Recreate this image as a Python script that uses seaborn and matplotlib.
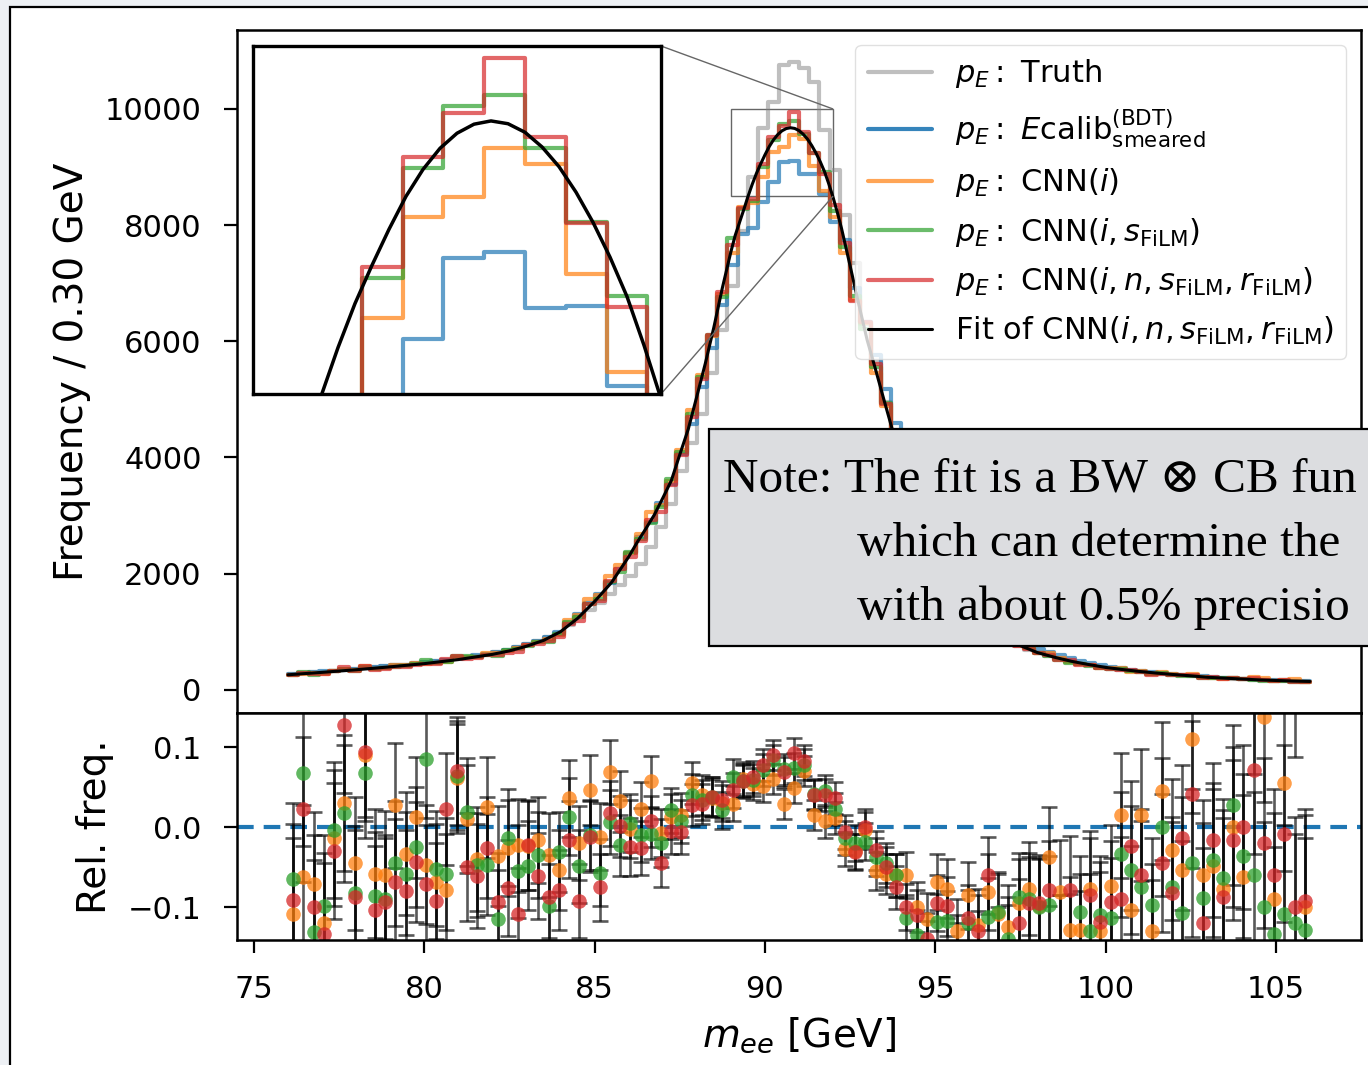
import numpy as np
import pandas as pd
import matplotlib
matplotlib.use("Agg")
import matplotlib.pyplot as plt
from matplotlib.lines import Line2D
from matplotlib.patches import Rectangle
from mpl_toolkits.axes_grid1.inset_locator import mark_inset
import seaborn as sns

# ---------------- data ----------------
bin_lo, bin_hi, n_bins = 76.0, 106.0, 100

truth = [276, 289, 302, 314, 328, 342, 357, 371, 387, 404,
         418, 435, 452, 471, 493, 515, 538, 563, 590, 619,
         653, 690, 733, 784, 842, 911, 975, 1120, 1250, 1380,
         1500, 1650, 1800, 1960, 2170, 2450, 2800, 3200, 3760, 4250,
         4750, 5450, 6200, 6950, 7900, 8836, 9667, 10126, 10757, 10814,
         10700, 10470, 9640, 8950, 8176, 7350, 6300, 5650, 4950, 4250,
         3620, 3080, 2620, 2240, 1920, 1650, 1420, 1240, 1090, 960,
         850, 760, 690, 625, 575, 530, 490, 452, 420, 392,
         366, 344, 324, 305, 289, 274, 259, 246, 233, 219,
         207, 197, 189, 180, 171, 164, 158, 152, 147, 142]

ecalib = [276, 290, 302, 315, 328, 343, 357, 372, 388, 404,
          419, 435, 453, 472, 494, 516, 539, 564, 591, 620,
          654, 692, 734, 785, 844, 912, 988, 1156, 1313, 1490,
          1653, 1838, 2081, 2352, 2630, 2896, 3208, 3547, 4059, 4573,
          5208, 5880, 6622, 7314, 7839, 7950, 8400, 8736, 9085, 9113,
          8872, 8881, 8536, 8058, 7737, 6914, 6333, 5771, 5179, 4599,
          4088, 3596, 3125, 2633, 2256, 1944, 1667, 1444, 1256, 1094,
          967, 861, 783, 706, 650, 599, 549, 502, 467, 430,
          398, 367, 346, 325, 307, 292, 275, 261, 248, 232,
          220, 209, 201, 192, 182, 174, 168, 161, 156, 151]

cnn_i = [246, 272, 281, 277, 323, 353, 341, 405, 365, 380,
         431, 421, 458, 450, 460, 476, 572, 570, 567, 636,
         630, 674, 717, 767, 830, 880, 935, 1198, 1287, 1559,
         1633, 1965, 2149, 2347, 2688, 3061, 3186, 3593, 4120, 4825,
         5416, 6092, 6821, 7526, 8309, 8380, 8829, 9264, 9350, 9559,
         9491, 9017, 8594, 8147, 7528, 6707, 6308, 5454, 4879, 4323,
         3843, 3236, 2766, 2454, 2082, 1691, 1525, 1267, 1154, 976,
         846, 779, 723, 636, 626, 550, 478, 438, 431, 374,
         369, 373, 310, 330, 267, 305, 267, 247, 275, 218,
         209, 193, 201, 180, 213, 198, 153, 170, 187, 136]

cnn_is = [258, 309, 262, 284, 327, 349, 328, 397, 355, 368,
          400, 410, 442, 512, 468, 486, 573, 575, 563, 591,
          579, 683, 694, 747, 814, 823, 957, 1171, 1249, 1475,
          1559, 1850, 2034, 2364, 2604, 2873, 3144, 3621, 4087, 4756,
          5385, 6103, 6761, 7775, 8286, 8420, 8999, 9473, 9741, 9789,
          9562, 9243, 8922, 8243, 7629, 6776, 6219, 5557, 4946, 4323,
          3622, 3110, 2656, 2322, 1992, 1633, 1467, 1227, 1115, 978,
          832, 786, 713, 635, 587, 509, 467, 449, 406, 383,
          353, 355, 327, 301, 277, 292, 254, 233, 237, 211,
          211, 196, 207, 185, 171, 157, 146, 144, 137, 132]

cnn_insr = [251, 296, 272, 273, 318, 387, 326, 407, 348, 366,
            391, 400, 433, 438, 449, 528, 577, 536, 555, 604,
            593, 639, 654, 767, 793, 833, 910, 1137, 1192, 1472,
            1529, 1869, 2083, 2293, 2562, 2916, 3064, 3529, 4035, 4699,
            5359, 6103, 6847, 7650, 8294, 8450, 9049, 9523, 9713, 9947,
            9609, 9238, 8876, 8348, 7691, 6700, 6333, 5604, 4920, 4254,
            3679, 3200, 2688, 2383, 2033, 1652, 1477, 1256, 1181, 930,
            822, 758, 709, 639, 599, 509, 506, 427, 427, 379,
            361, 334, 338, 306, 261, 279, 252, 258, 258, 204,
            216, 191, 198, 192, 195, 171, 158, 160, 140, 137]

fit_x = [76.0, 77.0, 78.0, 79.0, 80.0, 81.0, 82.0, 82.5, 83.0, 83.5,
         84.0, 84.5, 85.0, 85.5, 86.0, 86.25, 86.5, 86.75, 87.0, 87.25,
         87.5, 87.75, 88.0, 88.25, 88.5, 88.75, 89.0, 89.125, 89.25, 89.375,
         89.5, 89.625, 89.75, 89.875, 90.0, 90.125, 90.25, 90.375, 90.5, 90.625,
         90.75, 90.875, 91.0, 91.125, 91.25, 91.375, 91.5, 91.625, 91.75, 91.875,
         92.0, 92.125, 92.25, 92.5, 92.75, 93.0, 93.25, 93.5, 93.75, 94.0,
         94.25, 94.5, 94.75, 95.0, 95.5, 96.0, 96.5, 97.0, 97.5, 98.0,
         98.5, 99.0, 99.5, 100.0, 100.5, 101.0, 101.5, 102.0, 102.5, 103.0,
         103.5, 104.0, 104.5, 105.0, 105.5, 106.0]
fit_y = [258, 300, 345, 395, 450, 520, 610, 670, 750, 850,
         1000, 1230, 1520, 1850, 2290, 2540, 2770, 3010, 3300, 3600,
         4050, 4490, 5050, 5620, 6240, 6920, 7540, 7820, 8040, 8260,
         8490, 8700, 8890, 9055, 9210, 9352, 9468, 9559, 9624, 9663,
         9677, 9665, 9628, 9565, 9480, 9370, 9240, 9090, 8920, 8710,
         8480, 8220, 7940, 7300, 6650, 6024, 5510, 4980, 4460, 4000,
         3540, 3120, 2750, 2420, 1880, 1460, 1150, 920, 760, 640,
         560, 490, 435, 385, 348, 315, 287, 262, 240, 215,
         200, 185, 170, 160, 150, 143]

rel_cnn_i = [-0.108, -0.062, -0.071, -0.12, -0.014, 0.03, -0.045, 0.09, -0.058, -0.06,
             0.0275, -0.033, 0.012, -0.047, -0.068, -0.078, 0.061, 0.01, -0.04, 0.025,
             -0.036, -0.026, -0.0225, -0.023, -0.016, -0.035, -0.054, 0.036, -0.02, 0.046,
             -0.012, 0.069, 0.0325, -0.002, 0.022, 0.057, -0.007, 0.013, 0.015, 0.055,
             0.04, 0.036, 0.03, 0.029, 0.06, 0.054, 0.051, 0.06, 0.029, 0.049,
             0.07, 0.015, 0.007, 0.011, -0.027, -0.03, -0.004, -0.055, -0.058, -0.06,
             -0.06, -0.1, -0.115, -0.068, -0.077, -0.13, -0.085, -0.1225, -0.081, -0.108,
             -0.125, -0.095, -0.077, -0.099, -0.037, -0.081, -0.129, -0.128, -0.077, -0.13,
             -0.074, 0.015, -0.103, 0.015, -0.13, 0.045, -0.028, -0.053, 0.11, -0.06,
             -0.048, -0.077, 0.0, -0.062, 0.17, 0.137, -0.09, 0.055, 0.2, -0.1]

rel_cnn_is = [-0.065, 0.067, -0.131, -0.098, -0.004, 0.017, -0.082, 0.068, -0.086, -0.09,
              -0.045, -0.058, -0.025, 0.085, -0.052, -0.059, 0.064, 0.019, -0.0475, -0.047,
              -0.115, -0.013, -0.055, -0.048, -0.035, -0.098, -0.031, 0.013, -0.049, -0.01,
              -0.057, 0.0067, -0.0225, 0.005, -0.01, -0.008, -0.02, 0.021, 0.007, 0.04,
              0.034, 0.038, 0.021, 0.063, 0.057, 0.059, 0.071, 0.084, 0.072, 0.074,
              0.078, 0.041, 0.045, 0.023, -0.014, -0.02, -0.018, -0.037, -0.045, -0.06,
              -0.114, -0.135, -0.15, -0.118, -0.117, -0.16, -0.12, -0.15, -0.112, -0.106,
              -0.14, -0.087, -0.09, -0.1, -0.0975, -0.15, -0.15, -0.106, -0.13, -0.11,
              -0.114, -0.034, -0.054, -0.075, -0.0975, 0.0, -0.075, -0.107, -0.045, -0.089,
              -0.041, -0.063, 0.0275, -0.036, -0.06, -0.1, -0.133, -0.108, -0.12, -0.129]

rel_cnn_insr = [-0.091, 0.022, -0.1, -0.133, -0.03, 0.128, -0.087, 0.094, -0.104, -0.093,
                -0.068, -0.08, -0.044, -0.071, -0.092, 0.0225, 0.07, -0.05, -0.061, -0.026,
                -0.094, -0.076, -0.109, -0.0225, -0.061, -0.087, -0.079, -0.016, -0.092, -0.012,
                -0.075, 0.017, 0.001, -0.025, -0.026, 0.007, -0.045, -0.005, -0.006, 0.0275,
                0.029, 0.038, 0.034, 0.046, 0.058, 0.063, 0.077, 0.09, 0.069, 0.092,
                0.083, 0.04, 0.04, 0.036, -0.006, -0.031, 0.0, -0.029, -0.05, -0.075,
                -0.1, -0.11, -0.14, -0.095, -0.099, -0.15, -0.114, -0.13, -0.06, -0.15,
                -0.15, -0.12, -0.095, -0.095, -0.079, -0.15, -0.078, -0.15, -0.085, -0.118,
                -0.093, -0.09, -0.023, -0.06, -0.15, -0.045, -0.082, -0.013, 0.041, -0.12,
                -0.016, -0.087, -0.016, 0.0, 0.071, -0.02, -0.06, -0.008, -0.1, -0.092]

rel_err = [0.095, 0.09, 0.09, 0.088, 0.085, 0.085, 0.083, 0.082, 0.08, 0.08,
           0.078, 0.077, 0.075, 0.074, 0.072, 0.07, 0.068, 0.067, 0.065, 0.063,
           0.062, 0.06, 0.058, 0.056, 0.054, 0.052, 0.05, 0.048, 0.046, 0.044,
           0.042, 0.04, 0.038, 0.036, 0.034, 0.032, 0.03, 0.028, 0.027, 0.026,
           0.025, 0.024, 0.023, 0.022, 0.021, 0.02, 0.02, 0.019, 0.019, 0.019,
           0.019, 0.019, 0.02, 0.02, 0.021, 0.022, 0.023, 0.024, 0.025, 0.027,
           0.029, 0.031, 0.033, 0.035, 0.037, 0.04, 0.042, 0.045, 0.048, 0.05,
           0.053, 0.055, 0.058, 0.06, 0.062, 0.065, 0.067, 0.07, 0.072, 0.074,
           0.076, 0.078, 0.08, 0.082, 0.084, 0.086, 0.088, 0.09, 0.092, 0.094,
           0.096, 0.098, 0.1, 0.102, 0.104, 0.106, 0.108, 0.11, 0.112, 0.115]

legend_labels = [r"$p_E:$ Truth",
                 r"$p_E:$ $E\mathrm{calib}^{\mathrm{(BDT)}}_{\mathrm{smeared}}$",
                 r"$p_E:$ CNN$(i)$",
                 r"$p_E:$ CNN$(i, s_{\mathrm{FiLM}})$",
                 r"$p_E:$ CNN$(i, n, s_{\mathrm{FiLM}}, r_{\mathrm{FiLM}})$",
                 r"Fit of CNN$(i, n, s_{\mathrm{FiLM}}, r_{\mathrm{FiLM}})$"]
# the note box runs off the right edge of the slide; only its visible part is kept
note_lines = ["Note: The fit is a BW \u2297 CB fun",
              "which can determine the",
              "with about 0.5% precisio"]
x_ticks = [75, 80, 85, 90, 95, 100, 105]
y_ticks = [0, 2000, 4000, 6000, 8000, 10000]
r_ticks = [-0.1, 0.0, 0.1]

# ---------------- style ----------------
sns.set_theme(style="ticks")
plt.rcParams["font.family"] = ["DejaVu Sans"]
plt.rcParams["mathtext.fontset"] = "dejavusans"
plt.rcParams.update({"axes.edgecolor": "black", "xtick.color": "black",
                     "ytick.color": "black", "axes.labelcolor": "black",
                     "text.color": "black"})

C0, C1, C2, C3 = "#1f77b4", "#ff7f0e", "#2ca02c", "#d62728"

W, H = 1368, 1065
fig = plt.figure(figsize=(W / 100, H / 100), dpi=100, facecolor="#edf0f4")


def box(l, t, r, b):
    return [l / W, 1 - b / H, (r - l) / W, (b - t) / H]


fig.add_artist(Rectangle((10 / W, -0.1), 1.2, 1.1 - 7 / H, transform=fig.transFigure,
                         fc="white", ec="black", lw=1.6, zorder=-10))

ax = fig.add_axes(box(237, 30, 1361, 713))
axr = fig.add_axes(box(237, 713, 1361, 940))
axins = fig.add_axes(box(253, 46, 661, 394))

edges = list(np.linspace(bin_lo, bin_hi, n_bins + 1))
centers = [0.5 * (edges[i] + edges[i + 1]) for i in range(n_bins)]

main_series = [(truth, "grey", 0.5), (ecalib, C0, 0.7), (cnn_i, C1, 0.7),
               (cnn_is, C2, 0.7), (cnn_insr, C3, 0.7)]


def draw_hist(target, vals, col, a):
    df = pd.DataFrame({"m": centers, "w": vals})
    sns.histplot(data=df, x="m", weights="w", bins=edges, element="step",
                 fill=False, color=col, alpha=a, linewidth=3, ax=target)


for vals, col, a in main_series:
    draw_hist(ax, vals, col, a)
fit_df = pd.DataFrame({"x": fit_x, "y": fit_y})
sns.lineplot(data=fit_df, x="x", y="y", color="black", linewidth=2.2, ax=ax,
             estimator=None, sort=False)

for vals, col, a in main_series[1:]:
    draw_hist(axins, vals, col, a)
sns.lineplot(data=fit_df, x="x", y="y", color="black", linewidth=2.5, ax=axins,
             estimator=None, sort=False)

ax.set_xlim(74.5, 107.5)
ax.set_ylim(-400, 11360)
ax.set_yticks(y_ticks)
ax.set_xlabel("")
ax.set_ylabel("Frequency / 0.30 GeV", fontsize=28, labelpad=10)
ax.tick_params(axis="x", bottom=False, labelbottom=False)
ax.tick_params(axis="y", labelsize=22, length=9.5, width=1.6, pad=16)

axins.set_xlim(89, 92)
axins.set_ylim(8500, 10000)
axins.set_xticks([])
axins.set_yticks([])
axins.set_xlabel("")
axins.set_ylabel("")
for s in axins.spines.values():
    s.set_linewidth(2.4)
    s.set_visible(True)
mark_inset(ax, axins, loc1=1, loc2=4, fc="none", ec="0.4", lw=1.0)

handles = [Line2D([], [], color="grey", alpha=0.5, lw=3),
           Line2D([], [], color=C0, alpha=0.9, lw=3),
           Line2D([], [], color=C1, alpha=0.7, lw=3),
           Line2D([], [], color=C2, alpha=0.7, lw=3),
           Line2D([], [], color=C3, alpha=0.7, lw=3),
           Line2D([], [], color="black", lw=2.2)]
leg = ax.legend(handles, legend_labels, loc="upper right", fontsize=22,
                handlelength=2.1, handletextpad=0.75, labelspacing=0.54,
                framealpha=0.8, edgecolor="0.85", fancybox=True)

# ratio panel
axr.axhline(0.0, color=C0, ls=(0, (4, 2.4)), lw=3, zorder=1)
for vals, col in [(rel_cnn_i, C1), (rel_cnn_is, C2), (rel_cnn_insr, C3)]:
    axr.errorbar(centers, vals, yerr=rel_err, fmt="o", ms=10.5, mfc=(col, 0.75),
                 mec="none", ecolor=(0, 0, 0, 0.65), elinewidth=1.9, capsize=5.5,
                 capthick=1.9, zorder=2)
axr.set_xlim(74.5, 107.5)
axr.set_ylim(-0.141, 0.1425)
axr.set_yticks(r_ticks)
axr.set_xticks(x_ticks)
axr.set_ylabel("Rel. freq.", fontsize=28, labelpad=10)
axr.set_xlabel(r"$m_{ee}$ [GeV]", fontsize=28, labelpad=8)
axr.tick_params(labelsize=22, length=9.5, width=1.6, pad=16)

for a in (ax, axr):
    for s in a.spines.values():
        s.set_linewidth(1.8)
        s.set_visible(True)

# note box overlay
fig.add_artist(Rectangle((709 / W, 1 - 646 / H), (1500 - 709) / W, (646 - 429) / H,
                         transform=fig.transFigure, fc="#dcdde0", ec="black",
                         lw=1.6, zorder=20))
serif = ["Liberation Serif", "DejaVu Serif"]
fig.text(723 / W, 1 - 491 / H, note_lines[0], fontsize=35.5, family=serif,
         va="baseline", ha="left", zorder=21)
fig.text(857 / W, 1 - 556 / H, note_lines[1], fontsize=35.5, family=serif,
         va="baseline", ha="left", zorder=21)
fig.text(857 / W, 1 - 620 / H, note_lines[2], fontsize=35.5, family=serif,
         va="baseline", ha="left", zorder=21)

fig.savefig("out.png", dpi=100)
